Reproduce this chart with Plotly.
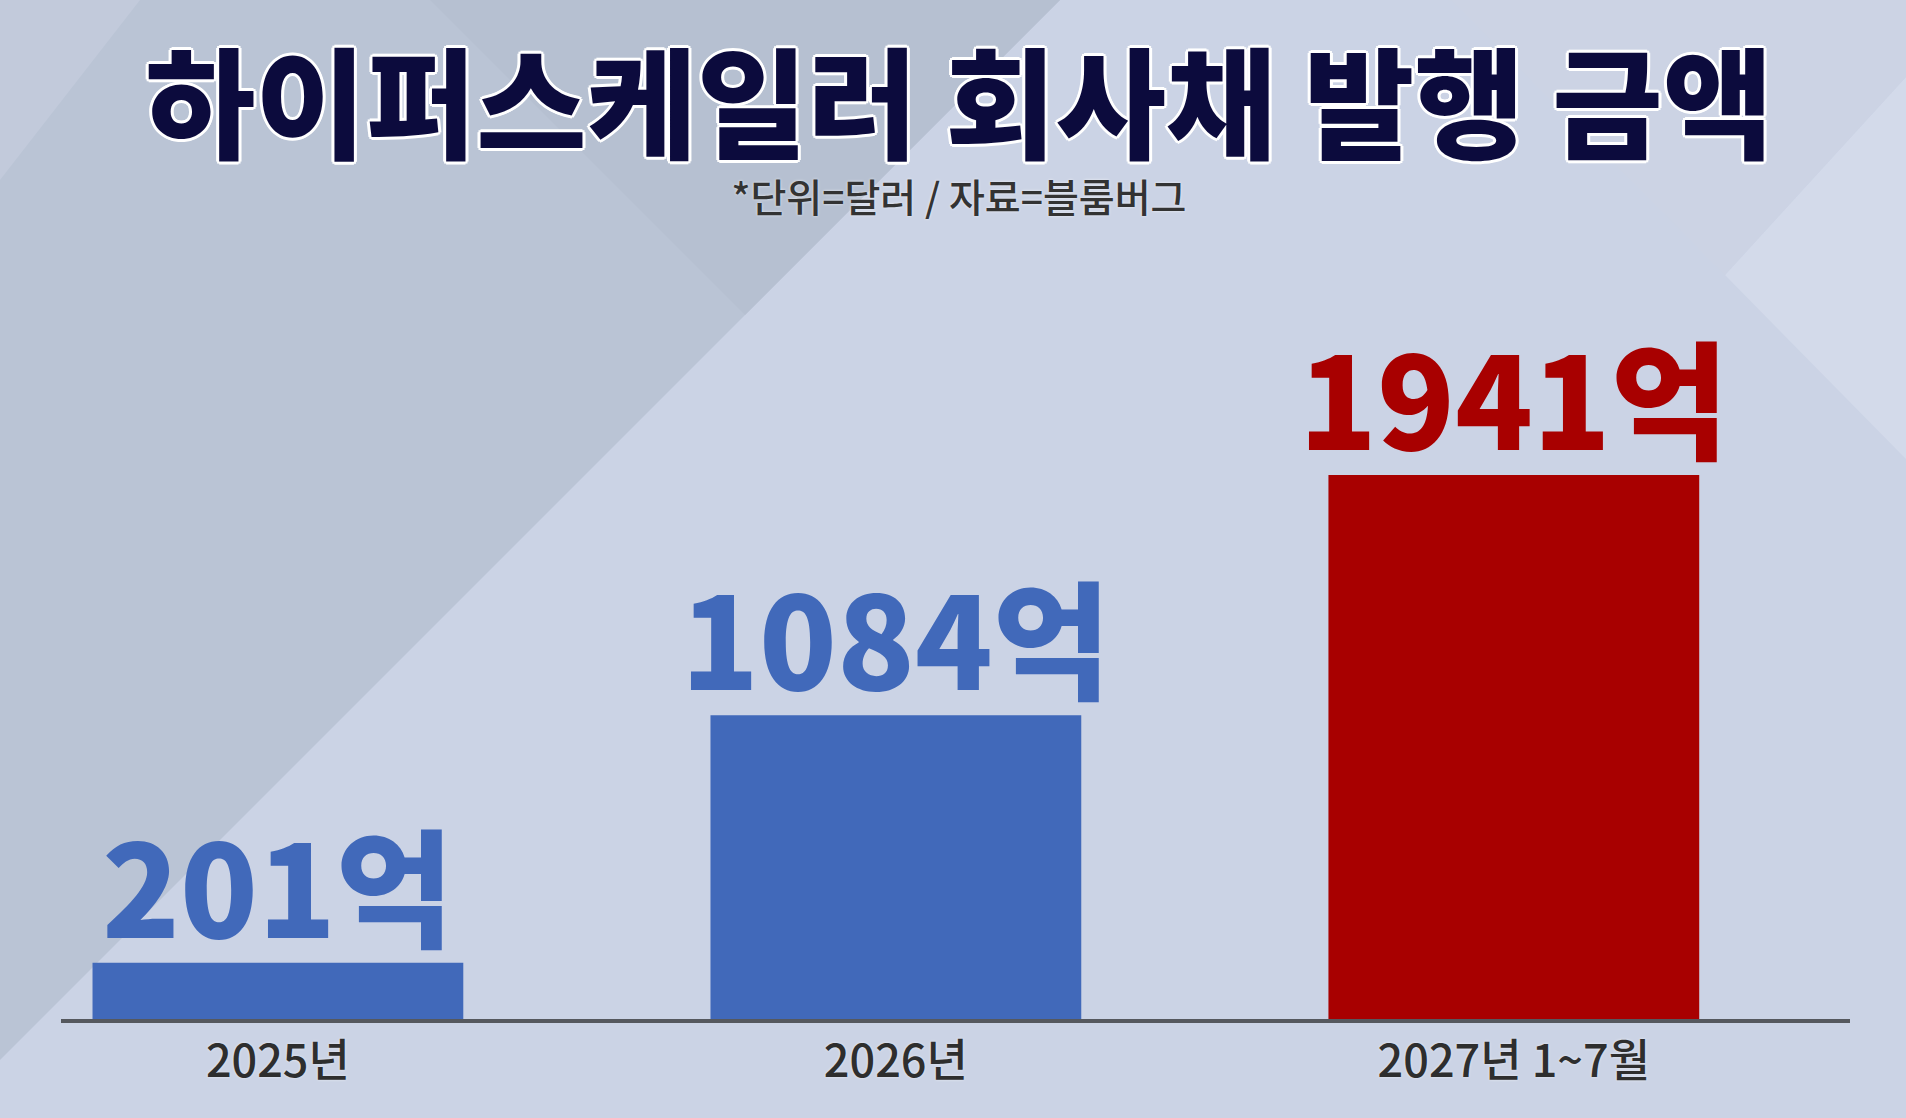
import plotly.graph_objects as go

# ---- data ----
categories = ["2025년", "2026년", "2027년 1~7월"]
values = [201, 1084, 1941]          # 억 달러
bar_colors = ["#4169BA", "#4169BA", "#A80000"]
title_text = "하이퍼스케일러 회사채 발행 금액"
subtitle_text = "*단위=달러 / 자료=블룸버그"

# ---- canvas geometry ----
W, H = 1906, 1118
ML, MR, MT, MB = 61, 56, 200, 99
PW, PH = W - ML - MR, H - MT - MB
FONT = "Noto Sans CJK KR"


def px(x):
    return (x - ML) / PW


def py(y):
    return (H - MB - y) / PH


def poly(points):
    return "M " + " L ".join(f"{px(x):.5f},{py(y):.5f}" for x, y in points) + " Z"


fig = go.Figure()
fig.add_trace(go.Bar(
    x=categories,
    y=values,
    marker=dict(color=bar_colors, line=dict(width=0)),
    width=0.6,
    hoverinfo="skip",
))

annotations = []
for cat, val, col in zip(categories, values, bar_colors):
    annotations.append(dict(
        x=cat, y=val, xref="x", yref="y", text=f"{val}억",
        xanchor="center", yanchor="bottom", yshift=-14, showarrow=False,
        font=dict(family=FONT, size=128, weight=900, color=col),
    ))

outline = ("text-shadow: 3px 0 0 #fff, -3px 0 0 #fff, 0 3px 0 #fff, 0 -3px 0 #fff, "
           "2px 2px 0 #fff, -2px -2px 0 #fff, 2px -2px 0 #fff, -2px 2px 0 #fff")
header = (f'<span style="font-size:120px;font-weight:900;color:#0c0b3d;{outline}">{title_text}</span>'
          f'<br><span style="font-size:39px;font-weight:500;color:#333333;'
          f'text-shadow: 0 0 3px rgba(255,255,255,0.7)">{subtitle_text}</span>')
annotations.append(dict(
    text=header, x=px(959), y=py(117), xref="paper", yref="paper",
    xanchor="center", yanchor="middle", showarrow=False, align="center",
    font=dict(family=FONT, size=48, color="#0c0b3d"),
))

bg_shapes = [
    ([(0, 0), (1060, 0), (0, 1060)], "#bac4d5"),
    ([(430, 0), (1060, 0), (745, 315)], "#b6c0d1"),
    ([(0, 0), (140, 0), (0, 180)], "#c2cadb"),
    ([(1725, 275), (W, 77), (W, 459)], "#d3daea"),
    ([(1451, 0), (W, 0), (W, 77), (1725, 275)], "#ccd3e4"),
]
shapes = []
for pts, col in bg_shapes:
    shapes.append(dict(type="path", path=poly(pts), xref="paper", yref="paper",
                       fillcolor=col, line=dict(width=0), layer="below"))

fig.update_layout(
    width=W, height=H,
    margin=dict(l=ML, r=MR, t=MT, b=MB, pad=0),
    paper_bgcolor="#cbd3e5",
    plot_bgcolor="rgba(0,0,0,0)",
    showlegend=False,
    shapes=shapes,
    annotations=annotations,
)
fig.update_xaxes(
    type="category", range=[-0.351, 2.544],
    showline=True, linecolor="#55585e", linewidth=4,
    showgrid=False, zeroline=False, ticks="",
    ticklabelstandoff=0,
    tickfont=dict(family=FONT, size=45, weight=500, color="#2e2e2e",
                  shadow="0 0 3px rgba(255,255,255,0.6)"),
    fixedrange=True,
)
fig.update_yaxes(
    range=[0, 2922], visible=False, showgrid=False, zeroline=False, fixedrange=True,
)

fig.write_html("out.html", config={"displayModeBar": False},
               post_script="document.body.style.margin='0';document.body.style.overflow='hidden';")
